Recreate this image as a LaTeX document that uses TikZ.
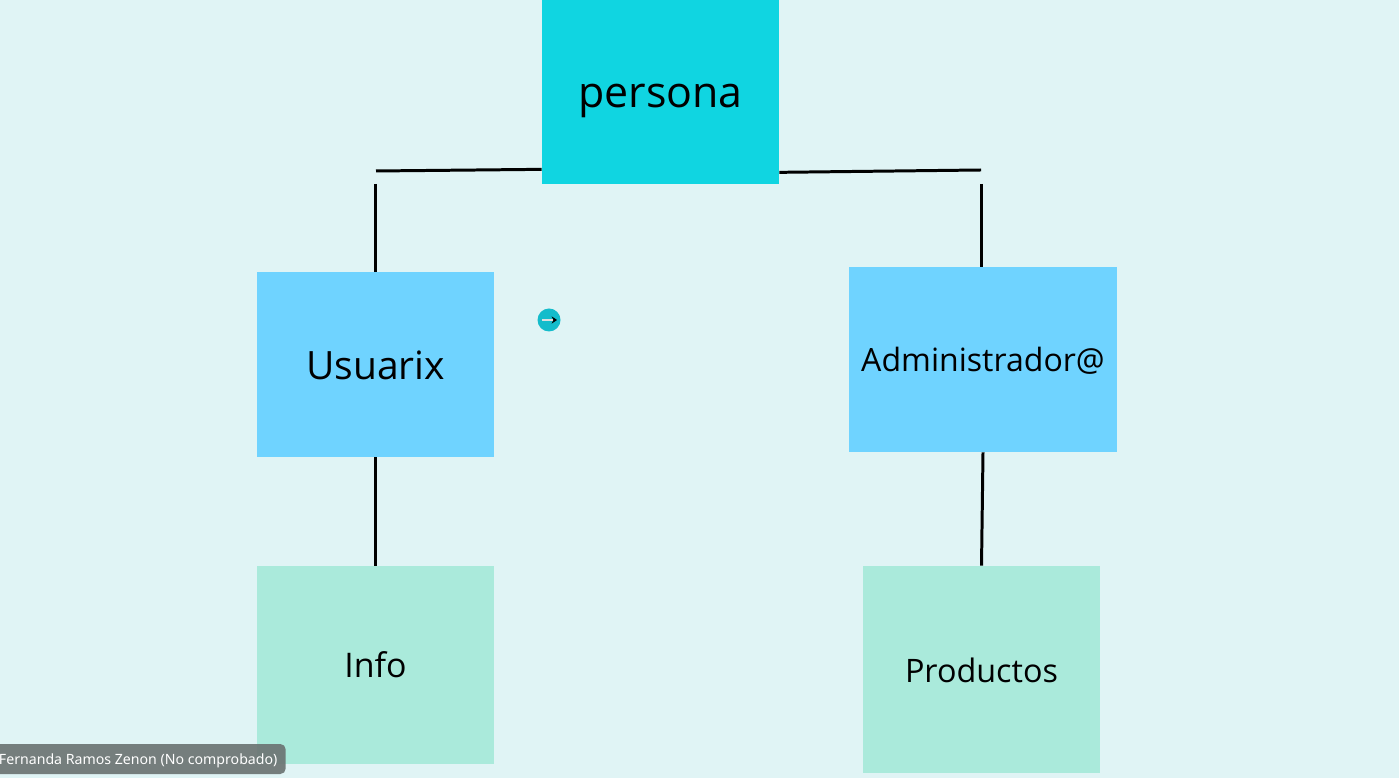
\documentclass[tikz,border=0pt]{standalone}
\usepackage{fontspec}
\setmainfont{Open Sans}
\newfontfamily\tipfont{Noto Sans}
\definecolor{bgmint}{RGB}{224, 244, 245}
\definecolor{topcyan}{RGB}{16, 213, 225}
\definecolor{midblue}{RGB}{111, 211, 255}
\definecolor{lowgreen}{RGB}{170, 234, 219}
\definecolor{dotcyan}{RGB}{20, 188, 203}
\definecolor{tipgray}{RGB}{108, 116, 115}
\usetikzlibrary{arrows.meta, positioning}

\begin{document}
\begin{tikzpicture}
  \tikzset{
    block/.style={inner sep=0pt, text=black},
    link/.style={line width=1.7pt, black}
  }
  % Page
  \fill[bgmint] (0, 0) rectangle (27.98, 15.56);
  \useasboundingbox (0, 0) rectangle (27.98, 15.56);

  % Boxes
  \node[block, fill=topcyan, minimum width=4.74cm, minimum height=3.68cm, text height=18pt, text depth=0pt, font=\fontsize{24.4}{28}\selectfont] (persona) at (13.21, 13.72) {persona};
  \node[block, fill=midblue, minimum width=4.74cm, minimum height=3.70cm, text height=17.2pt, font=\fontsize{22.2}{26}\selectfont] (usuarix) at (7.51, 8.27) {Usuarix};
  \node[block, fill=midblue, minimum width=5.36cm, minimum height=3.70cm, text height=15.5pt, font=\fontsize{18.25}{22}\selectfont] (admin) at (19.66, 8.37) {Administrador@};
  \node[block, fill=lowgreen, minimum width=4.74cm, minimum height=3.96cm, font=\fontsize{19.3}{23}\selectfont] (info) at (7.51, 2.26) {Info};
  \node[block, fill=lowgreen, minimum width=4.74cm, minimum height=4.14cm, text height=14.8pt, font=\fontsize{18.4}{22}\selectfont] (productos) at (19.63, 2.17) {Productos};

  % Loose ends of the broken lines
  \coordinate (leftend) at (7.52, 12.14);
  \coordinate (leftdrop) at (7.51, 11.88);
  \coordinate (rightend) at (19.62, 12.16);
  \coordinate (rightdrop) at (19.62, 11.88);

  % Connectors
  \draw[link] (persona.south west) ++(0, 0.30) -- (leftend);
  \draw[link] (leftdrop) -- (usuarix.north);
  \draw[link] (persona.south east) ++(0, 0.24) -- (rightend);
  \draw[link] (rightdrop) -- (rightdrop |- admin.north);
  \draw[link] (usuarix.south) -- (info.north);
  \draw[link] (admin.south) -- (productos.north);

  % Pointer dot
  \node[circle, fill=dotcyan, minimum size=0.46cm, inner sep=0pt] (dot) at (10.98, 9.16) {};
  \coordinate (dotin) at (10.84, 9.16);
  \coordinate (dotout) at (11.14, 9.16);
  \draw[-{Stealth[black, length=3pt, width=4pt]}, line width=0.9pt, gray!25] (dotin) -- (dotout);

  % Name tag
  \node[anchor=east, fill=tipgray, fill opacity=0.92, text opacity=1, text=white, rounded corners=3pt, inner xsep=4.7pt, minimum height=0.60cm, text depth=1.2pt, text height=7.2pt, font=\tipfont\fontsize{8.05}{10}\selectfont] (tag) at (5.72, 0.38) {Fernanda Ramos Zenon (No comprobado)};
\end{tikzpicture}
\end{document}
